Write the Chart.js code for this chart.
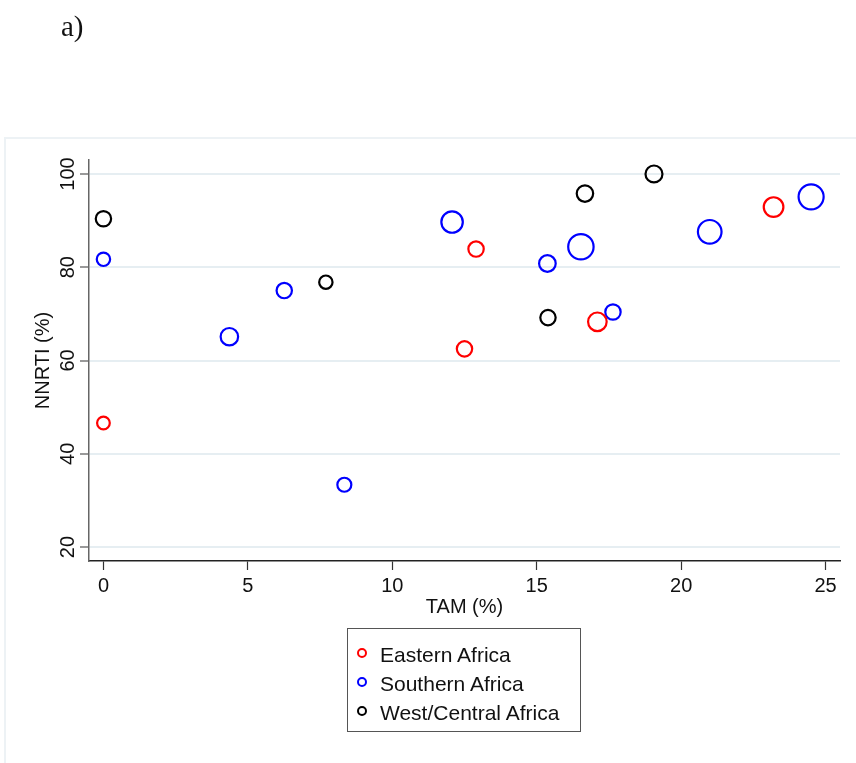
<!DOCTYPE html>
<html>
<head>
<meta charset="utf-8">
<script src="https://cdn.jsdelivr.net/npm/chart.js@4.4.0/dist/chart.umd.min.js"></script>
<style>
  body { margin: 0; background: #fff; }
  #wrap { position: relative; width: 856px; height: 763px; overflow: hidden; }
  #frame { position: absolute; left: 4px; top: 137px; width: 900px; height: 700px;
           border: 2px solid #edf2f5; }
  #myChart { position: absolute; left: 0; top: 0; }
  #tag { position: absolute; left: 61px; top: 12px; font: 29px "Liberation Serif", "Times New Roman", serif;
         line-height: 1; color: #111; }
  #legend { position: absolute; left: 347px; top: 628px; width: 234px; height: 104px;
            border: 1px solid #555; box-sizing: border-box; padding-top: 11px;
            font: 21px Arial, "Liberation Sans", sans-serif; color: #111; }
  #legend div { height: 29px; line-height: 29px; white-space: nowrap; }
  #legend span.mk { display: inline-block; width: 6px; height: 6px; border: 2px solid; border-radius: 50%;
                    margin: 0 13px 0 9px; vertical-align: 4px; }
</style>
</head>
<body>
<div id="wrap">
  <div id="frame"></div>
  <canvas id="myChart" width="856" height="763"></canvas>
  <div id="tag">a)</div>
  <div id="legend"></div>
</div>
<script>
// TAM (%) vs NNRTI (%), bubble size = weight
var eastTam = [0, 12.5, 12.9, 17.1, 23.2];
var eastNnrti = [46.6, 62.5, 83.9, 68.3, 92.9];
var eastN = [28, 41, 41, 60, 67];

var southTam = [0, 4.36, 6.26, 8.34, 12.07, 15.37, 16.53, 17.64, 20.99, 24.5];
var southNnrti = [81.7, 65.1, 75.0, 33.35, 89.7, 80.8, 84.4, 70.4, 87.6, 95.1];
var southN = [31, 53, 41, 34, 80, 48, 112, 41, 97, 109];

var westTam = [0, 7.7, 15.39, 16.67, 19.06];
var westNnrti = [90.4, 76.8, 69.2, 95.8, 100];
var westN = [41, 31, 41, 47, 50];

var xTicks = [0, 5, 10, 15, 20, 25];
var yTicks = [20, 40, 60, 80, 100];

var FONT = 'Arial, "Liberation Sans", sans-serif';

function pts(xs, ys, ns) {
    return xs.map(function(x, i) {
        return {x: x, y: ys[i], r: 1.2 * Math.sqrt(ns[i])};
    });
}
function ds(label, color, xs, ys, ns) {
    return {
        label: label,
        data: pts(xs, ys, ns),
        borderColor: color,
        backgroundColor: 'rgba(0,0,0,0)',
        borderWidth: 2.2,
        hoverBorderWidth: 2.2,
        clip: false
    };
}

var graphData = {
    datasets: [
        ds('Eastern Africa', '#ff0000', eastTam, eastNnrti, eastN),
        ds('Southern Africa', '#0000ff', southTam, southNnrti, southN),
        ds('West/Central Africa', '#000000', westTam, westNnrti, westN)
    ]
};

var ctx = document.getElementById('myChart').getContext('2d');
var myChart = new Chart(ctx, {
    type: 'bubble',
    data: graphData,
    options: {
        responsive: false,
        animation: false,
        layout: { autoPadding: false, padding: { left: 29, top: 160, right: 16, bottom: 140 } },
        plugins: { legend: { display: false }, tooltip: { enabled: false } },
        scales: {
            x: {
                type: 'linear', min: -0.5, max: 25.5,
                afterBuildTicks: function(s) { s.ticks = xTicks.map(function(v) { return {value: v}; }); },
                afterFit: function(s) { s.height = 62; },
                grid: { drawOnChartArea: false, drawTicks: true, tickLength: 9, tickColor: '#333', tickWidth: 1.2 },
                border: { display: true, color: '#222', width: 1.5 },
                ticks: { color: '#111', font: { family: FONT, size: 20 }, padding: 4, maxRotation: 0 },
                title: { display: true, text: 'TAM (%)', color: '#111', font: { family: FONT, size: 20 },
                         padding: { top: 0, bottom: 4 } }
            },
            y: {
                type: 'linear', min: 17, max: 103,
                afterBuildTicks: function(s) { s.ticks = yTicks.map(function(v) { return {value: v}; }); },
                afterFit: function(s) { s.width = 60; },
                grid: { color: '#e6eef2', lineWidth: 2, drawTicks: true, tickLength: 9, tickColor: '#555', tickWidth: 1.2 },
                border: { display: true, color: '#666', width: 1.5 },
                ticks: { color: '#111', font: { family: FONT, size: 20 }, minRotation: 90, maxRotation: 90,
                         crossAlign: 'center', padding: -5 },
                title: { display: true, text: 'NNRTI (%)', color: '#111', font: { family: FONT, size: 20 },
                         padding: { top: 2, bottom: 0 } }
            }
        }
    }
});

// legend below the plot, one entry per line
var leg = document.getElementById('legend');
myChart.data.datasets.forEach(function(d) {
    var row = document.createElement('div');
    var mk = document.createElement('span');
    mk.className = 'mk';
    mk.style.borderColor = d.borderColor;
    row.appendChild(mk);
    row.appendChild(document.createTextNode(d.label));
    leg.appendChild(row);
});
</script>
</body>
</html>
